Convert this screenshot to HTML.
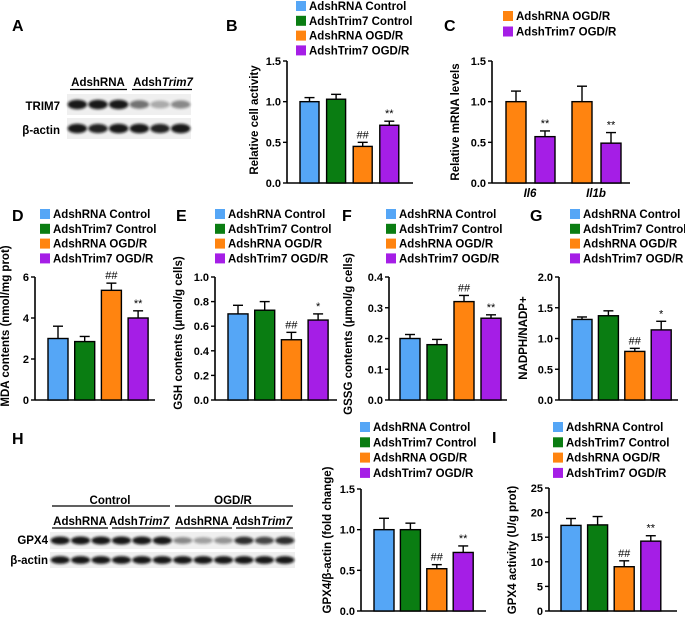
<!DOCTYPE html>
<html><head><meta charset="utf-8">
<style>
html,body{margin:0;padding:0;background:#fff;}
svg{display:block;font-family:"Liberation Sans",Arial,sans-serif;font-weight:bold;}
</style></head>
<body>
<svg id="fig" width="685" height="620" viewBox="0 0 685 620" xmlns="http://www.w3.org/2000/svg">
<defs>
<filter id="blur" x="-20%" y="-50%" width="140%" height="200%"><feGaussianBlur stdDeviation="1.2"/></filter>
</defs>
<g id="blots"></g>
<g id="charts"></g>
</svg>
<script>
// ---- data ----
const groups = ["AdshRNA Control","AdshTrim7 Control","AdshRNA OGD/R","AdshTrim7 OGD/R"];
const colors = ["#55a6f6","#0a7d12","#ff8410","#a51ee6"];
const bVals = [1.0, 1.03, 0.45, 0.71];
const bErr  = [0.05, 0.06, 0.05, 0.05];
const bSig  = ["", "", "##", "**"];
const cCats = ["Il6","Il1b"];
const cOrange = [1.0, 1.0];
const cOrangeErr = [0.13, 0.19];
const cPurple = [0.57, 0.49];
const cPurpleErr = [0.07, 0.13];
const dVals = [3.0, 2.85, 5.35, 4.0];
const dErr  = [0.6, 0.25, 0.35, 0.35];
const dSig  = ["", "", "##", "**"];
const eVals = [0.70, 0.73, 0.49, 0.65];
const eErr  = [0.07, 0.07, 0.06, 0.05];
const eSig  = ["", "", "##", "*"];
const fVals = [0.20, 0.18, 0.32, 0.266];
const fErr  = [0.013, 0.017, 0.02, 0.011];
const fSig  = ["", "", "##", "**"];
const gVals = [1.31, 1.37, 0.79, 1.14];
const gErr  = [0.04, 0.08, 0.05, 0.14];
const gSig  = ["", "", "##", "*"];
const hVals = [1.0, 1.0, 0.52, 0.72];
const hErr  = [0.14, 0.08, 0.05, 0.08];
const hSig  = ["", "", "##", "**"];
const iVals = [17.4, 17.5, 9.0, 14.2];
const iErr  = [1.4, 1.7, 1.2, 1.1];
const iSig  = ["", "", "##", "**"];
const ticksB = [0, 0.5, 1.0, 1.5];
const ticksD = [0, 2, 4, 6];
const ticksE = [0, 0.2, 0.4, 0.6, 0.8, 1.0];
const ticksF = [0, 0.1, 0.2, 0.3, 0.4];
const ticksG = [0, 0.5, 1.0, 1.5, 2.0];
const ticksI = [0, 5, 10, 15, 20, 25];

const NS = "http://www.w3.org/2000/svg";
const charts = document.getElementById("charts");
const blots = document.getElementById("blots");
function mk(tag, attrs, parent, txt){
  const e = document.createElementNS(NS, tag);
  for (const k in attrs) e.setAttribute(k, attrs[k]);
  if (txt !== undefined) e.textContent = txt;
  parent.appendChild(e);
  return e;
}
function fmt(v, dec){ return dec ? v.toFixed(dec) : String(v); }

function drawPanel(cfg){
  const g = mk("g", {}, charts);
  
  
  const y = v => cfg.y0 - (v - 0) / cfg.max * (cfg.y0 - cfg.yTop);
  const L = mk("text", {x: cfg.lx, y: cfg.ly, "font-size": 16}, g, cfg.letter);
  
  
  cfg.legend.forEach((li, k) => {
    const lg = mk("g", {}, g);
    
    
    const ry = cfg.legY + k * cfg.legDy;
    mk("rect", {x: cfg.legX, y: ry - 5, width: 10, height: 10, fill: colors[li]}, lg);
    mk("text", {x: cfg.legX + 13, y: ry + 4, "font-size": 11.5}, lg, groups[li]);
  });
  const ax = mk("line", {x1: cfg.ax, y1: cfg.yTop, x2: cfg.ax, y2: cfg.y0, stroke: "#000", "stroke-width": 1.6}, g);
  
  
  const xx = mk("line", {x1: cfg.ax, y1: cfg.y0, x2: cfg.axEnd, y2: cfg.y0, stroke: "#000", "stroke-width": 1.6}, g);
  
  
  cfg.ticks.forEach(t => {
    const ty = y(t);
    mk("line", {x1: cfg.ax - 4, y1: ty, x2: cfg.ax, y2: ty, stroke: "#000", "stroke-width": 1.4}, g);
    const tl = mk("text", {x: cfg.ax - 6, y: ty + 4, "font-size": 11, "text-anchor": "end"}, g, fmt(t, cfg.dec));
    
    
  });
  const yl = mk("text", {x: 0, y: 0, "font-size": 11.5, "text-anchor": "middle",
    transform: `translate(${cfg.ylx},${cfg.yly}) rotate(-90)`}, g, cfg.ylabel);
  
  
  cfg.vals.forEach((v, i) => {
    const bx = cfg.ax + cfg.off + i * cfg.pitch;
    const top = y(v), et = y(v + cfg.err[i]);
    const cx = bx + cfg.w / 2;
    const el = mk("line", {x1: cx, y1: top, x2: cx, y2: et, stroke: "#000", "stroke-width": 1.4}, g);
    
    
    mk("line", {x1: cx - 5, y1: et, x2: cx + 5, y2: et, stroke: "#000", "stroke-width": 1.4}, g);
    const r = mk("rect", {x: bx, y: top, width: cfg.w, height: cfg.y0 - top, fill: colors[i], stroke: "#000", "stroke-width": 1.4}, g);
    
    
    if (cfg.sig[i]) {
      const s = mk("text", {x: cx, y: et - 4, "font-size": 11, "font-weight": "normal", "text-anchor": "middle"}, g, cfg.sig[i]);
      
      
    }
  });
}

const L4 = [0,1,2,3];
drawPanel({id:"b", letter:"B", lx:226, ly:31, legend:L4, legX:296, legY:6, legDy:14.8,
  ax:287, axEnd:413, yTop:61, y0:183, max:1.5, ticks:ticksB, dec:1,
  ylabel:"Relative cell activity", ylx:258, yly:120,
  vals:bVals, err:bErr, sig:bSig, off:13, pitch:26.6, w:19});
drawPanel({id:"d", letter:"D", lx:12, ly:221, legend:L4, legX:40, legY:214, legDy:14.8,
  ax:35, axEnd:155, yTop:277, y0:400, max:6, ticks:ticksD, dec:0,
  ylabel:"MDA contents (nmol/mg prot)", ylx:9, yly:326,
  vals:dVals, err:dErr, sig:dSig, off:13, pitch:26.7, w:20});
drawPanel({id:"e", letter:"E", lx:176, ly:221, legend:L4, legX:215, legY:214, legDy:14.8,
  ax:215, axEnd:337, yTop:277, y0:400, max:1.0, ticks:ticksE, dec:1,
  ylabel:"GSH contents (μmol/g cells)", ylx:182, yly:333,
  vals:eVals, err:eErr, sig:eSig, off:13, pitch:26.7, w:20});
drawPanel({id:"f", letter:"F", lx:342, ly:221, legend:L4, legX:386, legY:214, legDy:14.8,
  ax:389, axEnd:507, yTop:277, y0:400, max:0.4, ticks:ticksF, dec:1,
  ylabel:"GSSG contents (μmol/g cells)", ylx:352, yly:334,
  vals:fVals, err:fErr, sig:fSig, off:11, pitch:27, w:20});
drawPanel({id:"g", letter:"G", lx:530, ly:221, legend:L4, legX:570, legY:214, legDy:14.8,
  ax:559, axEnd:678, yTop:277, y0:400, max:2.0, ticks:ticksG, dec:1,
  ylabel:"NADPH/NADP+", ylx:527, yly:338,
  vals:gVals, err:gErr, sig:gSig, off:13, pitch:26.4, w:20});
drawPanel({id:"h", letter:"", lx:0, ly:0, legend:L4, legX:360, legY:427, legDy:15.3,
  ax:361, axEnd:486, yTop:489, y0:611, max:1.5, ticks:ticksB, dec:1,
  ylabel:"GPX4/β-actin (fold change)", ylx:331, yly:540,
  vals:hVals, err:hErr, sig:hSig, off:13, pitch:26.4, w:20});
drawPanel({id:"i", letter:"I", lx:492, ly:443, legend:L4, legX:553, legY:427, legDy:15.3,
  ax:549, axEnd:677, yTop:488, y0:611, max:25, ticks:ticksI, dec:0,
  ylabel:"GPX4 activity (U/g prot)", ylx:516, yly:550,
  vals:iVals, err:iErr, sig:iSig, off:12, pitch:26.6, w:20});

// Panel C (grouped)
(function(){
  const g = mk("g", {}, charts);
  
  
  const ax = 492, y0 = 183, yTop = 61, max = 1.5;
  const y = v => y0 - v / max * (y0 - yTop);
  mk("text", {x: 444, y: 31, "font-size": 16}, g, "C");
  [2,3].forEach((li, k) => {
    const lg = mk("g", {}, g);
    
    
    const ry = 16 + k * 15.5;
    mk("rect", {x: 503, y: ry - 5, width: 10, height: 10, fill: colors[li]}, lg);
    mk("text", {x: 516, y: ry + 4, "font-size": 11.5}, lg, groups[li]);
  });
  mk("line", {x1: ax, y1: yTop, x2: ax, y2: y0, stroke: "#000", "stroke-width": 1.6}, g);
  mk("line", {x1: ax, y1: y0, x2: 630, y2: y0, stroke: "#000", "stroke-width": 1.6}, g);
  ticksB.forEach(t => {
    mk("line", {x1: ax - 4, y1: y(t), x2: ax, y2: y(t), stroke: "#000", "stroke-width": 1.4}, g);
    mk("text", {x: ax - 6, y: y(t) + 4, "font-size": 11, "text-anchor": "end"}, g, t.toFixed(1));
  });
  const yl = mk("text", {x: 0, y: 0, "font-size": 11.5, "text-anchor": "middle", transform: "translate(459,122) rotate(-90)"}, g, "Relative mRNA levels");
  
  
  cCats.forEach((c, j) => {
    const gx = 506 + j * 66;
    const series = [[cOrange[j], cOrangeErr[j], colors[2], ""], [cPurple[j], cPurpleErr[j], colors[3], "**"]];
    series.forEach((s, k) => {
      const bx = gx + k * 29, w = 20, cx = bx + w / 2;
      const top = y(s[0]), et = y(s[0] + s[1]);
      mk("line", {x1: cx, y1: top, x2: cx, y2: et, stroke: "#000", "stroke-width": 1.4}, g);
      mk("line", {x1: cx - 5, y1: et, x2: cx + 5, y2: et, stroke: "#000", "stroke-width": 1.4}, g);
      const r = mk("rect", {x: bx, y: top, width: w, height: y0 - top, fill: s[2], stroke: "#000", "stroke-width": 1.4}, g);
      
      
      if (s[3]) mk("text", {x: cx, y: et - 4, "font-size": 11, "font-weight": "normal", "text-anchor": "middle"}, g, s[3]);
    });
    const xl = mk("text", {x: gx + 24, y: 197, "font-size": 11.5, "font-style": "italic", "text-anchor": "middle"}, g, c);
    
    
  });
})();

// ---- blots ----
function strip(x, yy, w, h, intens, name){
  const g = mk("g", {}, blots);
  
  
  mk("rect", {x: x, y: yy, width: w, height: h, fill: "#efefef"}, g);
  const n = intens.length, lw = w / n;
  intens.forEach((a, i) => {
    mk("ellipse", {cx: x + lw * (i + 0.5), cy: yy + h / 2, rx: lw * 0.47, ry: h * 0.17 + a * 1.2,
      fill: "#111", opacity: a, filter: "url(#blur)"}, g);
  });
}
function txt(x, yy, s, size, anchor, parent, italicPart){
  const t = mk("text", {x: x, y: yy, "font-size": size, "text-anchor": anchor || "start"}, parent || blots, s);
  if (italicPart) { mk("tspan", {"font-style": "italic"}, t, italicPart); }
  return t;
}
txt(12, 31, "A", 16);
txt(98, 86, "AdshRNA", 11.5, "middle");
txt(163, 86, "Adsh", 11.5, "middle", null, "Trim7");
mk("line", {x1: 70, y1: 89.5, x2: 127, y2: 89.5, stroke: "#000", "stroke-width": 1.2}, blots);
mk("line", {x1: 132, y1: 89.5, x2: 192, y2: 89.5, stroke: "#000", "stroke-width": 1.2}, blots);
txt(60, 110, "TRIM7", 11.5, "end");
txt(60, 134, "β-actin", 11.5, "end");
strip(67, 94, 124, 21, [0.95,0.95,0.95,0.55,0.3,0.45], "trim7-blot");
strip(67, 118, 124, 21, [0.95,0.9,0.95,0.95,0.9,0.95], "beta-actin-blot-a");
txt(12, 444, "H", 16);
txt(110, 504, "Control", 11.5, "middle");
txt(233, 504, "OGD/R", 11.5, "middle");
mk("line", {x1: 52, y1: 506, x2: 170, y2: 506, stroke: "#000", "stroke-width": 1.2}, blots);
mk("line", {x1: 175, y1: 506, x2: 293, y2: 506, stroke: "#000", "stroke-width": 1.2}, blots);
txt(80, 525, "AdshRNA", 11.5, "middle");
txt(139, 525, "Adsh", 11.5, "middle", null, "Trim7");
txt(202, 525, "AdshRNA", 11.5, "middle");
txt(262, 525, "Adsh", 11.5, "middle", null, "Trim7");
[[52,108],[112,170],[175,232],[236,293]].forEach(p => mk("line", {x1: p[0], y1: 528, x2: p[1], y2: 528, stroke: "#000", "stroke-width": 1.2}, blots));
txt(48, 544, "GPX4", 11.5, "end");
txt(48, 564, "β-actin", 11.5, "end");
strip(50, 532, 245, 17, [0.95,0.95,0.95,0.95,0.95,0.95,0.45,0.35,0.4,0.85,0.75,0.85], "gpx4-blot");
strip(50, 552, 245, 16, [0.95,0.95,0.95,0.95,0.95,0.95,0.95,0.95,0.95,0.95,0.95,0.95], "beta-actin-blot-h");
</script>
</body></html>
